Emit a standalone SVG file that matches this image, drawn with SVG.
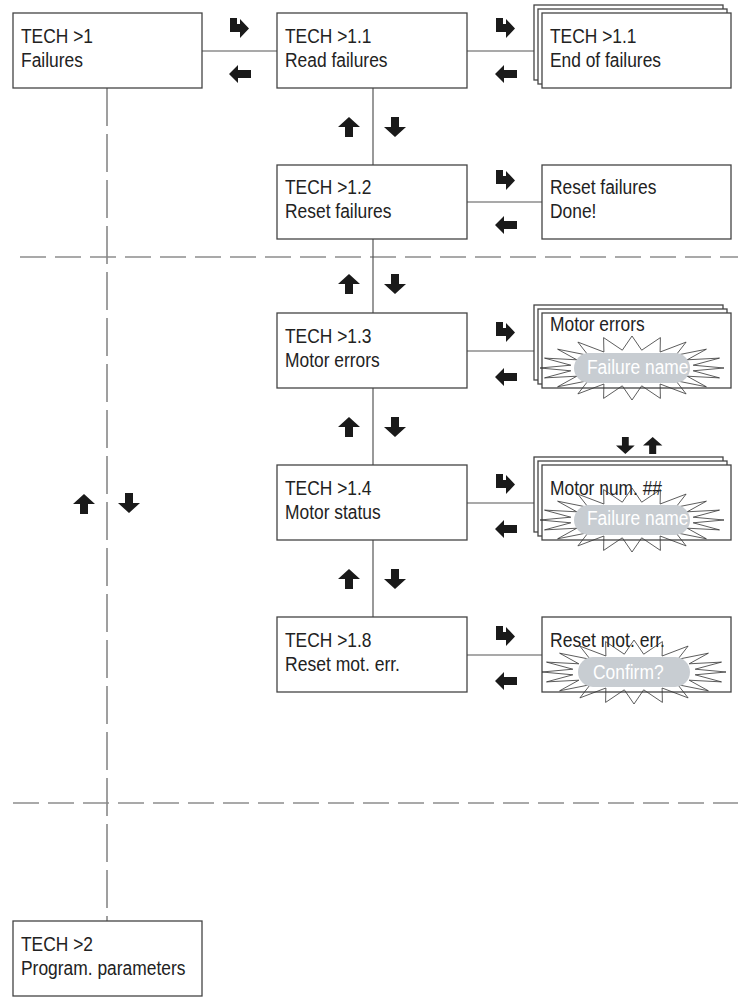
<svg xmlns="http://www.w3.org/2000/svg" xmlns:xlink="http://www.w3.org/1999/xlink" width="738" height="1001" viewBox="0 0 738 1001">
<style>
.box{fill:#fff;stroke:#444;stroke-width:1.3}
.t{font-family:"Liberation Sans",Arial,sans-serif;font-size:20px;fill:#222}
.pt{font-family:"Liberation Sans",Arial,sans-serif;font-size:20px;fill:#fff}
.pill{fill:#c8cdd2}
.burst{fill:none;stroke:#333;stroke-width:0.8}
.ln{stroke:#555;stroke-width:1.2;fill:none}
.dash{stroke:#555;stroke-width:1.2;stroke-dasharray:26 9;fill:none}
.vdash{stroke:#888;stroke-width:1.6;stroke-dasharray:38 8;fill:none}
.ic{fill:#1a1a1a}
</style>
<defs>
<path id="aR" d="M1,0 H8 V6 H11 V1 L20,10.5 L11,20 V14 H1 Z"/>
<path id="aL" d="M0,9 L9,0 V5 H22 V13 H9 V18 Z"/>
<path id="aU" d="M11,0 L22,10 H15 V20 H7 V10 H0 Z"/>
<path id="aD" d="M7,0 H15 V10 H22 L11,20 L0,10 H7 Z"/>
<path id="burst" d="M92,0 L61.2,2.8 L87.5,9.9 L55.2,8.2 L74.4,18.8 L43.8,12.7 L54.1,25.9 L28.1,16 L28.4,30.4 L9.7,17.8 L0,32 L-9.7,17.8 L-28.4,30.4 L-28.1,16 L-54.1,25.9 L-43.8,12.7 L-74.4,18.8 L-55.2,8.2 L-87.5,9.9 L-61.2,2.8 L-92,0 L-61.2,-2.8 L-87.5,-9.9 L-55.2,-8.2 L-74.4,-18.8 L-43.8,-12.7 L-54.1,-25.9 L-28.1,-16 L-28.4,-30.4 L-9.7,-17.8 L0,-32 L9.7,-17.8 L28.4,-30.4 L28.1,-16 L54.1,-25.9 L43.8,-12.7 L74.4,-18.8 L55.2,-8.2 L87.5,-9.9 L61.2,-2.8 Z"/>
</defs>

<g id="connectors">
<line class="dash" x1="20" y1="257" x2="738" y2="257"/>
<line class="dash" x1="13" y1="803" x2="738" y2="803"/>
<line class="vdash" x1="107" y1="88" x2="107" y2="921"/>
<line class="ln" x1="202" y1="51" x2="277" y2="51"/>
<line class="ln" x1="467" y1="51" x2="534" y2="51"/>
<line class="ln" x1="467" y1="202" x2="542" y2="202"/>
<line class="ln" x1="467" y1="351" x2="534" y2="351"/>
<line class="ln" x1="467" y1="503" x2="534" y2="503"/>
<line class="ln" x1="467" y1="655" x2="542" y2="655"/>
<line class="ln" x1="373" y1="88" x2="373" y2="617"/>
<g class="ic">
<use xlink:href="#aR" x="229" y="18"/>
<use xlink:href="#aL" x="229" y="65"/>
<use xlink:href="#aR" x="495" y="18"/>
<use xlink:href="#aL" x="495" y="65"/>
<use xlink:href="#aR" x="495" y="170"/>
<use xlink:href="#aL" x="495" y="216"/>
<use xlink:href="#aR" x="495" y="322"/>
<use xlink:href="#aL" x="495" y="368"/>
<use xlink:href="#aR" x="495" y="474"/>
<use xlink:href="#aL" x="495" y="520"/>
<use xlink:href="#aR" x="495" y="626"/>
<use xlink:href="#aL" x="495" y="672"/>
<use xlink:href="#aU" x="338" y="117"/>
<use xlink:href="#aD" x="384" y="117"/>
<use xlink:href="#aU" x="338" y="274"/>
<use xlink:href="#aD" x="384" y="274"/>
<use xlink:href="#aU" x="338" y="417"/>
<use xlink:href="#aD" x="384" y="417"/>
<use xlink:href="#aU" x="338" y="569"/>
<use xlink:href="#aD" x="384" y="569"/>
<use xlink:href="#aU" x="73" y="494"/>
<use xlink:href="#aD" x="118" y="493"/>
<use xlink:href="#aD" transform="translate(616,437) scale(0.85)"/>
<use xlink:href="#aU" transform="translate(643,437) scale(0.88 0.85)"/>
</g>
</g>

<g id="n1">
<rect class="box" x="13" y="13" width="189" height="75"/>
<text class="t" x="21" y="43" textLength="72" lengthAdjust="spacingAndGlyphs">TECH &gt;1</text>
<text class="t" x="21" y="67" textLength="62" lengthAdjust="spacingAndGlyphs">Failures</text>
</g>

<g id="n11">
<rect class="box" x="277" y="13" width="190" height="75"/>
<text class="t" x="285" y="43" textLength="86.5" lengthAdjust="spacingAndGlyphs">TECH &gt;1.1</text>
<text class="t" x="285" y="67" textLength="102.5" lengthAdjust="spacingAndGlyphs">Read failures</text>
</g>

<g id="n11end">
<rect class="box" x="534" y="5" width="189" height="75"/>
<rect class="box" x="538" y="9" width="189" height="75"/>
<rect class="box" x="542" y="13" width="189" height="75"/>
<text class="t" x="550" y="43" textLength="86.5" lengthAdjust="spacingAndGlyphs">TECH &gt;1.1</text>
<text class="t" x="550" y="67" textLength="111" lengthAdjust="spacingAndGlyphs">End of failures</text>
</g>

<g id="n12">
<rect class="box" x="277" y="165" width="190" height="74"/>
<text class="t" x="285" y="194" textLength="86.5" lengthAdjust="spacingAndGlyphs">TECH &gt;1.2</text>
<text class="t" x="285" y="218" textLength="106.4" lengthAdjust="spacingAndGlyphs">Reset failures</text>
</g>

<g id="n12done">
<rect class="box" x="542" y="165" width="189" height="74"/>
<text class="t" x="550" y="194" textLength="106.4" lengthAdjust="spacingAndGlyphs">Reset failures</text>
<text class="t" x="550" y="218" textLength="46.4" lengthAdjust="spacingAndGlyphs">Done!</text>
</g>

<g id="n13">
<rect class="box" x="277" y="313" width="190" height="75"/>
<text class="t" x="285" y="343" textLength="86.5" lengthAdjust="spacingAndGlyphs">TECH &gt;1.3</text>
<text class="t" x="285" y="367" textLength="94.7" lengthAdjust="spacingAndGlyphs">Motor errors</text>
</g>

<g id="n13err">
<rect class="box" x="534" y="305" width="189" height="75"/>
<rect class="box" x="538" y="309" width="189" height="75"/>
<rect class="box" x="542" y="313" width="189" height="75"/>
<text class="t" x="550" y="331" textLength="94.7" lengthAdjust="spacingAndGlyphs">Motor errors</text>
<use class="burst" xlink:href="#burst" transform="translate(632,368)"/>
<rect class="pill" x="574" y="353" width="116" height="30" rx="15"/>
<text class="pt" x="587" y="374" textLength="101.5" lengthAdjust="spacingAndGlyphs">Failure name</text>
</g>

<g id="n14">
<rect class="box" x="277" y="465" width="190" height="75"/>
<text class="t" x="285" y="495" textLength="86.5" lengthAdjust="spacingAndGlyphs">TECH &gt;1.4</text>
<text class="t" x="285" y="519" textLength="95.7" lengthAdjust="spacingAndGlyphs">Motor status</text>
</g>

<g id="n14num">
<rect class="box" x="534" y="457" width="189" height="75"/>
<rect class="box" x="538" y="461" width="189" height="75"/>
<rect class="box" x="542" y="465" width="189" height="75"/>
<text class="t" x="550" y="495" textLength="112" lengthAdjust="spacingAndGlyphs">Motor num. ##</text>
<use class="burst" xlink:href="#burst" transform="translate(632,520)"/>
<rect class="pill" x="574" y="505" width="116" height="30" rx="15"/>
<text class="pt" x="587" y="525" textLength="101.5" lengthAdjust="spacingAndGlyphs">Failure name</text>
</g>

<g id="n18">
<rect class="box" x="277" y="617" width="190" height="75"/>
<text class="t" x="285" y="647" textLength="86.5" lengthAdjust="spacingAndGlyphs">TECH &gt;1.8</text>
<text class="t" x="285" y="671" textLength="115" lengthAdjust="spacingAndGlyphs">Reset mot. err.</text>
</g>

<g id="n18confirm">
<rect class="box" x="542" y="617" width="189" height="75"/>
<text class="t" x="550" y="647" textLength="115" lengthAdjust="spacingAndGlyphs">Reset mot. err.</text>
<use class="burst" xlink:href="#burst" transform="translate(634,672)"/>
<rect class="pill" x="578" y="657" width="112" height="30" rx="15"/>
<text class="pt" x="593" y="679" textLength="70.6" lengthAdjust="spacingAndGlyphs">Confirm?</text>
</g>

<g id="n2">
<rect class="box" x="13" y="921" width="189" height="75"/>
<text class="t" x="21" y="951" textLength="72" lengthAdjust="spacingAndGlyphs">TECH &gt;2</text>
<text class="t" x="21" y="975" textLength="164.4" lengthAdjust="spacingAndGlyphs">Program. parameters</text>
</g>
</svg>
